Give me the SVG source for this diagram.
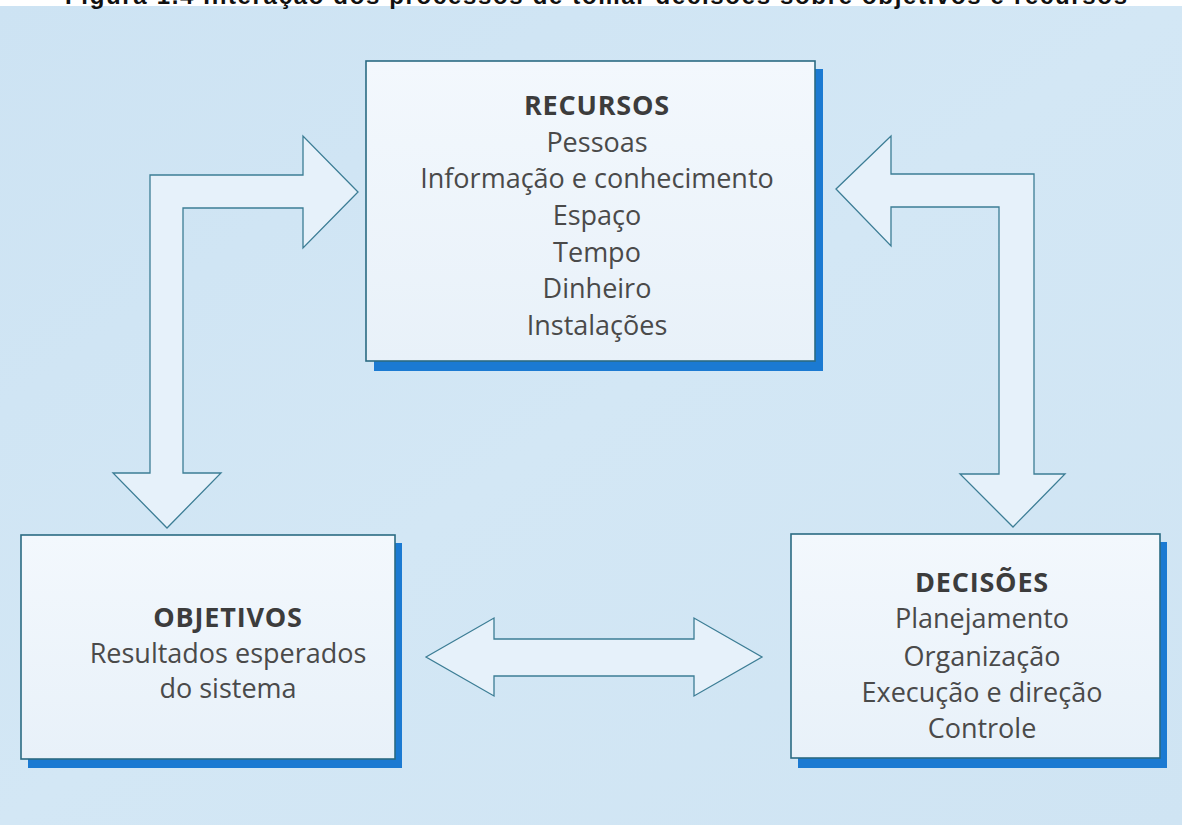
<svg xmlns="http://www.w3.org/2000/svg" width="1182" height="825" viewBox="0 0 1182 825">
  <defs>
    <linearGradient id="bg" x1="0" y1="0" x2="1" y2="1">
      <stop offset="0" stop-color="#cde3f3"/>
      <stop offset="0.5" stop-color="#d3e7f5"/>
      <stop offset="1" stop-color="#cfe4f3"/>
    </linearGradient>
    <linearGradient id="boxfill" x1="0" y1="0" x2="0" y2="1">
      <stop offset="0" stop-color="#f3f8fd"/>
      <stop offset="1" stop-color="#e8f1f9"/>
    </linearGradient>
    <style>
      .shadow { fill: #1b7ad2; }
      .box { fill: url(#boxfill); stroke: #2b6b83; stroke-width: 1.6; }
      .arrow { fill: #e6f1fa; stroke: #3c7d95; stroke-width: 1.3; stroke-linejoin: miter; }
      .head { font-family: "Open Sans", "Liberation Sans", sans-serif; font-weight: bold; font-size: 27px; letter-spacing: 0.8px; fill: #3c3c3c; text-anchor: middle; }
      .item { font-family: "Open Sans", "Liberation Sans", sans-serif; font-size: 27px; fill: #4a4a4a; text-anchor: middle; }
      .title { font-family: "Liberation Sans", Arial, sans-serif; font-weight: bold; font-size: 24px; fill: #111; }
    </style>
  </defs>

  <rect x="0" y="0" width="1182" height="825" fill="url(#bg)"/>
  <rect x="0" y="0" width="1182" height="6" fill="#ffffff"/>
  <text class="title" x="65" y="4" textLength="1062" lengthAdjust="spacing">Figura 1.4  Interação dos processos de tomar decisões sobre objetivos e recursos</text>

  <g id="connectors">
    <polygon class="arrow" points="150,175 303,175 303,136 358,192 303,248 303,208 183,208 183,473 221,473 167,528 113,473 150,473"/>
    <polygon class="arrow" points="836,189 891,136 891,174 1034,174 1034,474 1065,474 1013,527 960,474 999,474 999,207 891,207 891,246"/>
    <polygon class="arrow" points="426,657 494,618 494,639 694,639 694,618 762,657 694,696 694,676 494,676 494,696"/>
  </g>

  <g id="recursos">
    <rect class="shadow" x="374" y="69" width="449" height="302"/>
    <rect class="box" x="366" y="61" width="449" height="300"/>
    <text class="head" x="597" y="115">RECURSOS</text>
    <text class="item" x="597" y="152">Pessoas</text>
    <text class="item" x="597" y="188">Informação e conhecimento</text>
    <text class="item" x="597" y="225">Espaço</text>
    <text class="item" x="597" y="262">Tempo</text>
    <text class="item" x="597" y="298">Dinheiro</text>
    <text class="item" x="597" y="335">Instalações</text>
  </g>

  <g id="objetivos">
    <rect class="shadow" x="28" y="543" width="374" height="225"/>
    <rect class="box" x="21" y="535" width="374" height="224"/>
    <text class="head" x="228" y="627">OBJETIVOS</text>
    <text class="item" x="228" y="663">Resultados esperados</text>
    <text class="item" x="228" y="698">do sistema</text>
  </g>

  <g id="decisoes">
    <rect class="shadow" x="798" y="542" width="369" height="226"/>
    <rect class="box" x="791" y="534" width="369" height="224"/>
    <text class="head" x="982" y="592">DECISÕES</text>
    <text class="item" x="982" y="628">Planejamento</text>
    <text class="item" x="982" y="666">Organização</text>
    <text class="item" x="982" y="702">Execução e direção</text>
    <text class="item" x="982" y="738">Controle</text>
  </g>
</svg>
